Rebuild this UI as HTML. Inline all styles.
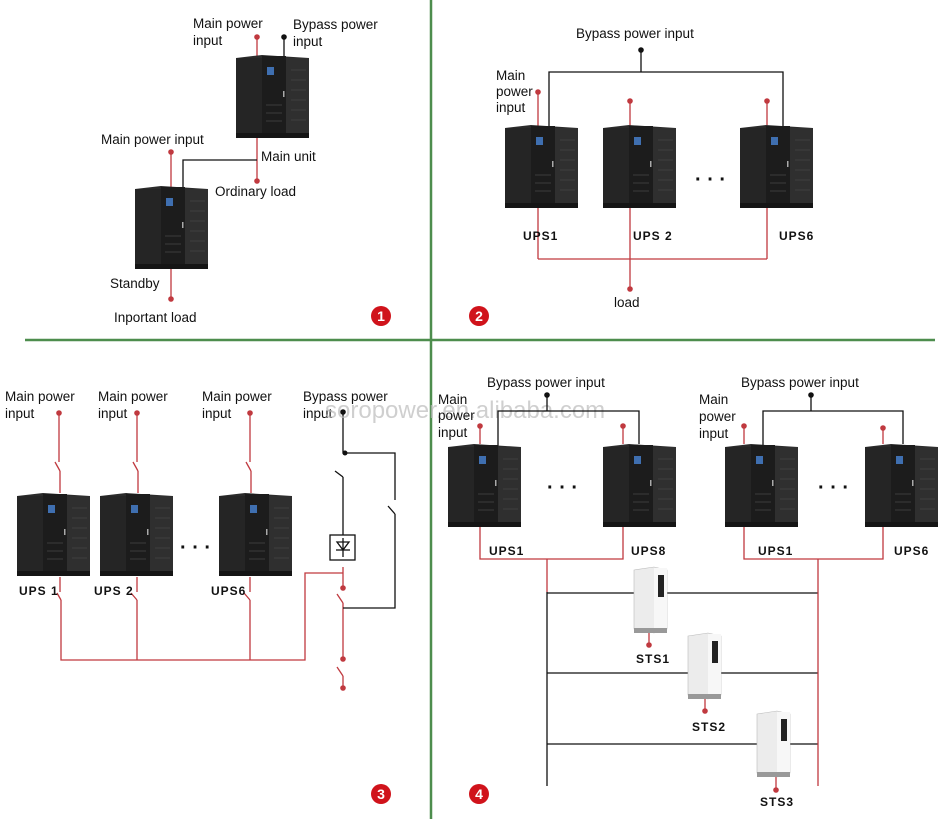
<!DOCTYPE html>
<html><head><meta charset="utf-8"><style>
html,body{margin:0;padding:0;background:#fff;}
svg{display:block;font-family:"Liberation Sans",sans-serif;}
.t{font-size:13.5px;fill:#111;}
.u{font-size:12px;fill:#111;font-weight:bold;letter-spacing:1px;}
.r{stroke:#c0393f;stroke-width:1.3;fill:none;}
.k{stroke:#111;stroke-width:1.3;fill:none;}
.g{stroke:#4d8d4d;stroke-width:2.5;}
</style></head><body>
<svg width="942" height="819" viewBox="0 0 942 819" xmlns="http://www.w3.org/2000/svg">
<defs>
<g id="c">
<polygon points="0,3 26,0 73,3 73,80 26,83 0,80" fill="#2b2b2b"/>
<rect x="0" y="3" width="26" height="77" fill="#252525"/>
<rect x="26" y="1" width="24" height="81" fill="#1c1c1c"/>
<rect x="50" y="3" width="23" height="77" fill="#2f2f2f"/>
<rect x="31" y="12" width="7" height="8" fill="#3f6fb0"/>
<rect x="47" y="36" width="1.5" height="6" fill="#aaa"/>
<g stroke="#444" stroke-width="0.8">
<line x1="55" y1="15" x2="70" y2="15"/><line x1="55" y1="25" x2="70" y2="25"/><line x1="55" y1="35" x2="70" y2="35"/><line x1="55" y1="45" x2="70" y2="45"/><line x1="55" y1="55" x2="70" y2="55"/><line x1="55" y1="65" x2="70" y2="65"/>
<line x1="30" y1="50" x2="46" y2="50"/><line x1="30" y1="58" x2="46" y2="58"/><line x1="30" y1="66" x2="46" y2="66"/>
</g>
<rect x="0" y="78" width="73" height="5" fill="#151515"/>
</g>
<g id="s">
<polygon points="0,3 20,0 33,3 33,62 20,66 0,62" fill="#ececec" stroke="#bbb" stroke-width="0.6"/>
<rect x="20" y="1" width="13" height="63" fill="#f7f7f7"/>
<rect x="24" y="8" width="6" height="22" fill="#222"/>
<rect x="0" y="61" width="33" height="5" fill="#999"/>
</g>
</defs>

<line class="g" x1="431" y1="0" x2="431" y2="819"/>
<line class="g" x1="25" y1="340" x2="935" y2="340"/>

<!-- Q1 -->
<line class="r" x1="257" y1="37" x2="257" y2="181"/>
<line class="k" x1="284" y1="37" x2="284" y2="56"/>
<polyline class="k" points="257,160 183,160 183,190"/>
<line class="r" x1="171" y1="152" x2="171" y2="299"/>
<use href="#c" x="236" y="55"/>
<use href="#c" x="135" y="186"/>
<g fill="#c0393f"><circle cx="257" cy="37" r="2.8"/><circle cx="257" cy="181" r="2.8"/><circle cx="171" cy="152" r="2.8"/><circle cx="171" cy="299" r="2.8"/></g>
<circle cx="284" cy="37" r="2.8" fill="#111"/>
<text class="t" x="193" y="28">Main power</text><text class="t" x="193" y="45">input</text>
<text class="t" x="293" y="29">Bypass power</text><text class="t" x="293" y="46">input</text>
<text class="t" x="101" y="144">Main power input</text>
<text class="t" x="261" y="161">Main unit</text>
<text class="t" x="215" y="196">Ordinary load</text>
<text class="t" x="110" y="288">Standby</text>
<text class="t" x="114" y="322">Inportant load</text>

<!-- Q2 -->
<line class="k" x1="641" y1="50" x2="641" y2="72"/>
<polyline class="k" points="549,126 549,72 783,72 783,127"/>
<line class="r" x1="538" y1="92" x2="538" y2="259"/>
<line class="r" x1="630" y1="101" x2="630" y2="289"/>
<line class="r" x1="767" y1="101" x2="767" y2="259"/>
<line class="r" x1="538" y1="259" x2="767" y2="259"/>
<use href="#c" x="505" y="125"/>
<use href="#c" x="603" y="125"/>
<use href="#c" x="740" y="125"/>
<g fill="#c0393f"><circle cx="538" cy="92" r="2.8"/><circle cx="630" cy="101" r="2.8"/><circle cx="767" cy="101" r="2.8"/><circle cx="630" cy="289" r="2.8"/></g>
<circle cx="641" cy="50" r="2.8" fill="#111"/>
<text class="t" x="576" y="38">Bypass power input</text>
<text class="t" x="496" y="80">Main</text><text class="t" x="496" y="96">power</text><text class="t" x="496" y="112">input</text>
<text class="t" x="695" y="186" style="font-size:20px;font-weight:bold">· · ·</text>
<text class="u" x="523" y="240">UPS1</text><text class="u" x="633" y="240">UPS 2</text><text class="u" x="779" y="240">UPS6</text>
<text class="t" x="614" y="307">load</text>

<!-- Q3 -->
<g class="r">
<line x1="59" y1="413" x2="59" y2="462"/><line x1="55" y1="462" x2="60" y2="471"/><line x1="60" y1="471" x2="60" y2="493"/>
<line x1="137" y1="413" x2="137" y2="462"/><line x1="133" y1="462" x2="138" y2="471"/><line x1="138" y1="471" x2="138" y2="493"/>
<line x1="250" y1="413" x2="250" y2="462"/><line x1="246" y1="462" x2="251" y2="471"/><line x1="251" y1="471" x2="251" y2="493"/>
<line x1="60" y1="577" x2="60" y2="592"/><line x1="57" y1="593" x2="61" y2="600"/><polyline points="61,600 61,660 305,660 305,573 343,573"/>
<line x1="137" y1="577" x2="137" y2="592"/><line x1="131" y1="593" x2="137" y2="600"/><line x1="137" y1="600" x2="137" y2="660"/>
<line x1="250" y1="577" x2="250" y2="592"/><line x1="244" y1="593" x2="250" y2="600"/><line x1="250" y1="600" x2="250" y2="660"/>
<line x1="343" y1="567" x2="343" y2="588"/><line x1="337" y1="594" x2="343" y2="603"/><line x1="343" y1="603" x2="343" y2="658"/>
<line x1="337" y1="667" x2="343" y2="676"/><line x1="343" y1="676" x2="343" y2="688"/>
</g>
<g class="k">
<polyline points="343,412 343,453 395,453 395,500"/>
<line x1="388" y1="506" x2="395" y2="514"/><polyline points="395,514 395,608 343,608"/>
<line x1="335" y1="471" x2="343" y2="477"/><line x1="343" y1="477" x2="343" y2="535"/>
<rect x="330" y="535" width="25" height="25" fill="#fff"/>
<polygon points="337,542 349,542 343,550" fill="none"/><line x1="336" y1="550" x2="350" y2="550"/><line x1="343" y1="538" x2="343" y2="557"/>
</g>
<use href="#c" x="17" y="493"/><use href="#c" x="100" y="493"/><use href="#c" x="219" y="493"/>
<g fill="#c0393f"><circle cx="59" cy="413" r="2.8"/><circle cx="137" cy="413" r="2.8"/><circle cx="250" cy="413" r="2.8"/><circle cx="343" cy="588" r="2.8"/><circle cx="343" cy="659" r="2.8"/><circle cx="343" cy="688" r="2.8"/></g>
<circle cx="343" cy="412" r="2.8" fill="#111"/><circle cx="345" cy="453" r="2.5" fill="#111"/>
<text class="t" x="5" y="401">Main power</text><text class="t" x="5" y="418">input</text>
<text class="t" x="98" y="401">Main power</text><text class="t" x="98" y="418">input</text>
<text class="t" x="202" y="401">Main power</text><text class="t" x="202" y="418">input</text>
<text class="t" x="303" y="401">Bypass power</text><text class="t" x="303" y="418">input</text>
<text x="325" y="418" style="font-size:24px;fill:#bbb;opacity:0.7">soropower.en.alibaba.com</text>
<text class="t" x="180" y="554" style="font-size:20px;font-weight:bold">· · ·</text>
<text class="u" x="19" y="595">UPS 1</text><text class="u" x="94" y="595">UPS 2</text><text class="u" x="211" y="595">UPS6</text>

<!-- Q4 -->
<g class="k">
<line x1="547" y1="395" x2="547" y2="411"/><polyline points="498,447 498,411 639,411 639,444"/>
<line x1="811" y1="395" x2="811" y2="411"/><polyline points="763,447 763,411 903,411 903,444"/>
<line x1="547" y1="592" x2="547" y2="786"/>
<line x1="547" y1="593" x2="818" y2="593"/><line x1="547" y1="673" x2="818" y2="673"/><line x1="547" y1="744" x2="818" y2="744"/>
</g>
<g class="r">
<line x1="480" y1="426" x2="480" y2="444"/><line x1="623" y1="426" x2="623" y2="444"/>
<line x1="744" y1="426" x2="744" y2="444"/><line x1="883" y1="428" x2="883" y2="444"/>
<polyline points="480,527 480,559 623,559 623,527"/><line x1="547" y1="559" x2="547" y2="592"/>
<polyline points="744,527 744,559 883,559 883,527"/><line x1="818" y1="559" x2="818" y2="786"/>
<line x1="649" y1="633" x2="649" y2="645"/><line x1="705" y1="698" x2="705" y2="711"/><line x1="776" y1="776" x2="776" y2="790"/>
</g>
<use href="#c" x="448" y="444"/><use href="#c" x="603" y="444"/><use href="#c" x="725" y="444"/><use href="#c" x="865" y="444"/>
<use href="#s" x="634" y="567"/><use href="#s" x="688" y="633"/><use href="#s" x="757" y="711"/>
<g fill="#c0393f"><circle cx="480" cy="426" r="2.8"/><circle cx="623" cy="426" r="2.8"/><circle cx="744" cy="426" r="2.8"/><circle cx="883" cy="428" r="2.8"/><circle cx="649" cy="645" r="2.8"/><circle cx="705" cy="711" r="2.8"/><circle cx="776" cy="790" r="2.8"/></g>
<circle cx="547" cy="395" r="2.8" fill="#111"/><circle cx="811" cy="395" r="2.8" fill="#111"/>
<text class="t" x="487" y="387">Bypass power input</text>
<text class="t" x="741" y="387">Bypass power input</text>
<text class="t" x="438" y="404">Main</text><text class="t" x="438" y="420">power</text><text class="t" x="438" y="437">input</text>
<text class="t" x="699" y="404">Main</text><text class="t" x="699" y="421">power</text><text class="t" x="699" y="438">input</text>
<text class="t" x="547" y="494" style="font-size:20px;font-weight:bold">· · ·</text>
<text class="t" x="818" y="494" style="font-size:20px;font-weight:bold">· · ·</text>
<text class="u" x="489" y="555">UPS1</text><text class="u" x="631" y="555">UPS8</text><text class="u" x="758" y="555">UPS1</text><text class="u" x="894" y="555">UPS6</text>
<text class="u" x="636" y="663">STS1</text><text class="u" x="692" y="731">STS2</text><text class="u" x="760" y="806">STS3</text>

<!-- numbers -->
<g font-size="14" font-weight="bold" fill="#fff" text-anchor="middle">
<circle cx="381" cy="316" r="10" fill="#d0131b"/><text x="381" y="321">1</text>
<circle cx="479" cy="316" r="10" fill="#d0131b"/><text x="479" y="321">2</text>
<circle cx="381" cy="794" r="10" fill="#d0131b"/><text x="381" y="799">3</text>
<circle cx="479" cy="794" r="10" fill="#d0131b"/><text x="479" y="799">4</text>
</g>
</svg>
</body></html>
